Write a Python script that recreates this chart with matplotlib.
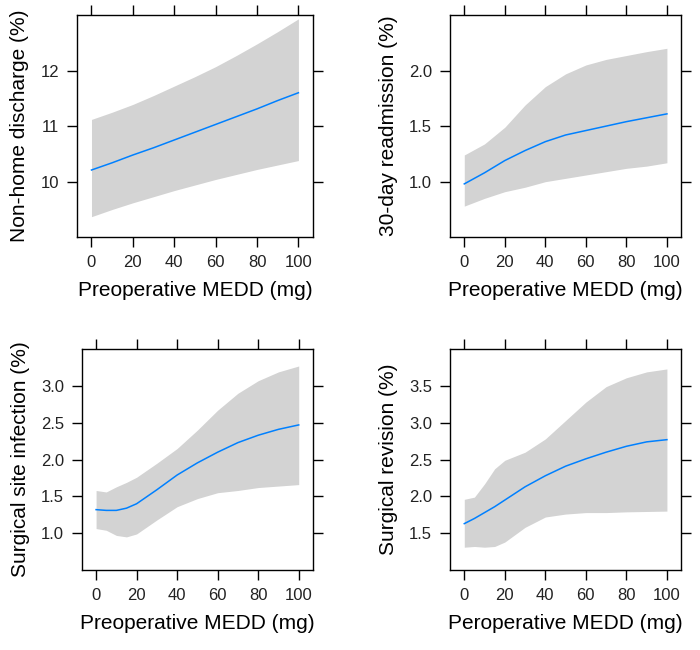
import numpy as np
import matplotlib.pyplot as plt

plt.rcParams['font.family'] = ['Liberation Sans', 'DejaVu Sans']

# panel 1: non-home discharge
x1 = [0, 10, 20, 30, 40, 50, 60, 70, 80, 90, 100]
fit1 = [10.21, 10.34, 10.48, 10.61, 10.75, 10.89, 11.03, 11.17, 11.31, 11.46, 11.60]
up1 = [11.12, 11.25, 11.39, 11.55, 11.72, 11.89, 12.07, 12.27, 12.48, 12.70, 12.93]
lo1 = [9.37, 9.50, 9.62, 9.73, 9.84, 9.94, 10.04, 10.13, 10.22, 10.30, 10.38]

# panel 2: 30-day readmission
x2 = [0, 10, 20, 30, 40, 50, 60, 70, 80, 90, 100]
fit2 = [0.98, 1.08, 1.19, 1.28, 1.36, 1.42, 1.46, 1.50, 1.54, 1.575, 1.61]
up2 = [1.24, 1.34, 1.49, 1.69, 1.855, 1.97, 2.05, 2.10, 2.135, 2.17, 2.20]
lo2 = [0.78, 0.85, 0.91, 0.95, 1.00, 1.03, 1.06, 1.09, 1.12, 1.14, 1.17]

# panel 3: surgical site infection
x3 = [0, 5, 10, 15, 20, 30, 40, 50, 60, 70, 80, 90, 100]
fit3 = [1.32, 1.31, 1.31, 1.34, 1.40, 1.59, 1.79, 1.955, 2.10, 2.23, 2.33, 2.41, 2.47]
up3 = [1.58, 1.56, 1.63, 1.69, 1.76, 1.95, 2.15, 2.40, 2.67, 2.90, 3.07, 3.19, 3.27]
lo3 = [1.063, 1.04, 0.97, 0.95, 0.99, 1.18, 1.36, 1.47, 1.55, 1.58, 1.62, 1.64, 1.66]

# panel 4: surgical revision
x4 = [0, 5, 10, 15, 20, 30, 40, 50, 60, 70, 80, 90, 100]
fit4 = [1.63, 1.70, 1.78, 1.86, 1.95, 2.13, 2.28, 2.41, 2.51, 2.60, 2.68, 2.74, 2.77]
up4 = [1.96, 1.99, 2.17, 2.375, 2.49, 2.60, 2.78, 3.03, 3.28, 3.49, 3.61, 3.69, 3.73]
lo4 = [1.31, 1.32, 1.31, 1.32, 1.38, 1.58, 1.72, 1.76, 1.78, 1.78, 1.79, 1.795, 1.80]

panels = [
    (x1, fit1, up1, lo1, "Non-home discharge (%)", "Preoperative MEDD (mg)",
     (9.0, 13.0), [10, 11, 12], ["10", "11", "12"]),
    (x2, fit2, up2, lo2, "30-day readmission (%)", "Preoperative MEDD (mg)",
     (0.5, 2.5), [1.0, 1.5, 2.0], ["1.0", "1.5", "2.0"]),
    (x3, fit3, up3, lo3, "Surgical site infection (%)", "Preoperative MEDD (mg)",
     (0.5, 3.5), [1.0, 1.5, 2.0, 2.5, 3.0], ["1.0", "1.5", "2.0", "2.5", "3.0"]),
    (x4, fit4, up4, lo4, "Surgical revision (%)", "Peroperative MEDD (mg)",
     (1.0, 4.0), [1.5, 2.0, 2.5, 3.0, 3.5], ["1.5", "2.0", "2.5", "3.0", "3.5"]),
]

boxes = [
    [0.110, 0.635, 0.337, 0.342],
    [0.643, 0.635, 0.330, 0.342],
    [0.117, 0.123, 0.330, 0.340],
    [0.643, 0.123, 0.330, 0.340],
]

fig = plt.figure(figsize=(7, 6.5), dpi=100)

for box, (x, fit, up, lo, ylab, xlab, ylim, yt, ytl) in zip(boxes, panels):
    ax = fig.add_axes(box)
    ax.fill_between(x, lo, up, color="#d3d3d3", linewidth=0)
    ax.plot(x, fit, color="#0080ff", linewidth=1.1)
    ax.set_xlim(-7, 107)
    ax.set_ylim(*ylim)
    ax.set_xticks([0, 20, 40, 60, 80, 100])
    ax.set_yticks(yt)
    ax.set_yticklabels(ytl)
    ax.tick_params(direction="out", length=7, width=1, top=True, right=True,
                   labelsize=12, color="black", labelcolor="#222222", pad=6)
    for s in ax.spines.values():
        s.set_linewidth(1)
    ax.set_ylabel(ylab, fontsize=15, labelpad=8)
    ax.set_xlabel(xlab, fontsize=15, labelpad=8)

fig.savefig("out.png", dpi=100)
